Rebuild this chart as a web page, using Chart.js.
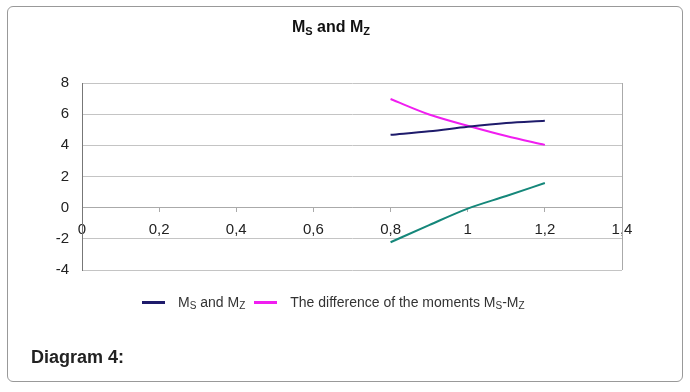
<!DOCTYPE html>
<html>
<head>
<meta charset="utf-8">
<script src="https://cdn.jsdelivr.net/npm/chart.js@4.4.1/dist/chart.umd.min.js"></script>
<style>
  body { margin: 0; background: #fff; font-family: "Liberation Sans", Arial, sans-serif; }
  #box { position: absolute; left: 7px; top: 6px; width: 676px; height: 376px; box-sizing: border-box;
         border: 1px solid #999; border-radius: 6px; }
  #chart { position: absolute; left: 0; top: 0; }
  #title { position: absolute; left: 0; width: 662px; top: 18px; text-align: center;
           font-weight: bold; font-size: 16px; color: #111; }
  #title sub { font-size: 11px; vertical-align: -3px; }
  #legend { position: absolute; left: 142px; top: 291px; font-size: 14px; color: #333; white-space: nowrap; }
  #legend sub { font-size: 10px; vertical-align: -2px; }
  .item { display: inline-flex; align-items: center; margin-right: 9px; }
  .sw { width: 23px; height: 3px; margin-right: 13px; }
  #caption { position: absolute; left: 31px; top: 347px; font-weight: bold; font-size: 18px; color: #222; }
</style>
</head>
<body>
<div id="box"></div>
<canvas id="chart" width="690" height="392"></canvas>
<div id="title">M<sub>S</sub> and M<sub>Z</sub></div>
<div id="legend"></div>
<div id="caption">Diagram 4:</div>
<script>
// data
const xValues = [0.8, 0.9, 1.0, 1.1, 1.2];
const msMz = [4.68, 4.9, 5.19, 5.43, 5.58];
const difference = [6.97, 5.98, 5.26, 4.6, 4.03];
const third = [-2.22, -1.12, -0.06, 0.75, 1.58];

const legendLabels = ['M<sub>S</sub> and M<sub>Z</sub>', 'The difference of the moments M<sub>S</sub>-M<sub>Z</sub>'];
const colors = ['#1e1b6b', '#f01ef0', '#15877a'];

const font = { family: '"Liberation Sans", Arial, sans-serif', size: 15 };

function pts(ys) {
  return xValues.map((x, i) => ({ x: x, y: ys[i] }));
}

// right edge of the plot area
const frame = {
  id: 'frame',
  beforeDatasetsDraw(c) {
    const { ctx, chartArea: a } = c;
    ctx.save();
    ctx.strokeStyle = '#aaa';
    ctx.lineWidth = 1;
    ctx.beginPath();
    ctx.moveTo(Math.round(a.right) + 0.5, a.top);
    ctx.lineTo(Math.round(a.right) + 0.5, a.bottom);
    ctx.stroke();
    ctx.restore();
  }
};

new Chart(document.getElementById('chart'), {
  type: 'line',
  data: {
    datasets: [
      { data: pts(msMz), borderColor: colors[0] },
      { data: pts(difference), borderColor: colors[1] },
      { data: pts(third), borderColor: colors[2] }
    ]
  },
  options: {
    responsive: false,
    animation: false,
    layout: { padding: { left: 42, top: 83, right: 68, bottom: 122 } },
    elements: {
      point: { radius: 0 },
      line: { borderWidth: 2, fill: false, cubicInterpolationMode: 'monotone' }
    },
    plugins: { legend: { display: false }, tooltip: { enabled: false } },
    scales: {
      x: {
        type: 'linear', min: 0, max: 1.4,
        position: { y: 0 },
        afterFit: s => { s.height = 0; },
        grid: { drawOnChartArea: false, drawTicks: true, tickLength: 4, color: '#aaa' },
        border: { display: true, color: '#aaa' },
        ticks: {
          stepSize: 0.2, padding: 9, color: '#222', font: font, maxRotation: 0,
          callback: v => String(Math.round(v * 10) / 10).replace('.', ',')
        }
      },
      y: {
        min: -4, max: 8,
        afterFit: s => { s.width = 40; },
        grid: { color: '#c4c4c4', drawTicks: false },
        border: { color: '#777' },
        ticks: { stepSize: 2, padding: 13, color: '#222', font: font }
      }
    }
  },
  plugins: [frame]
});

// legend with subscripts
const legend = document.getElementById('legend');
legendLabels.forEach((lab, i) => {
  const item = document.createElement('span');
  item.className = 'item';
  item.innerHTML = '<span class="sw" style="background:' + colors[i] + '"></span><span>' + lab + '</span>';
  legend.appendChild(item);
});
</script>
</body>
</html>
